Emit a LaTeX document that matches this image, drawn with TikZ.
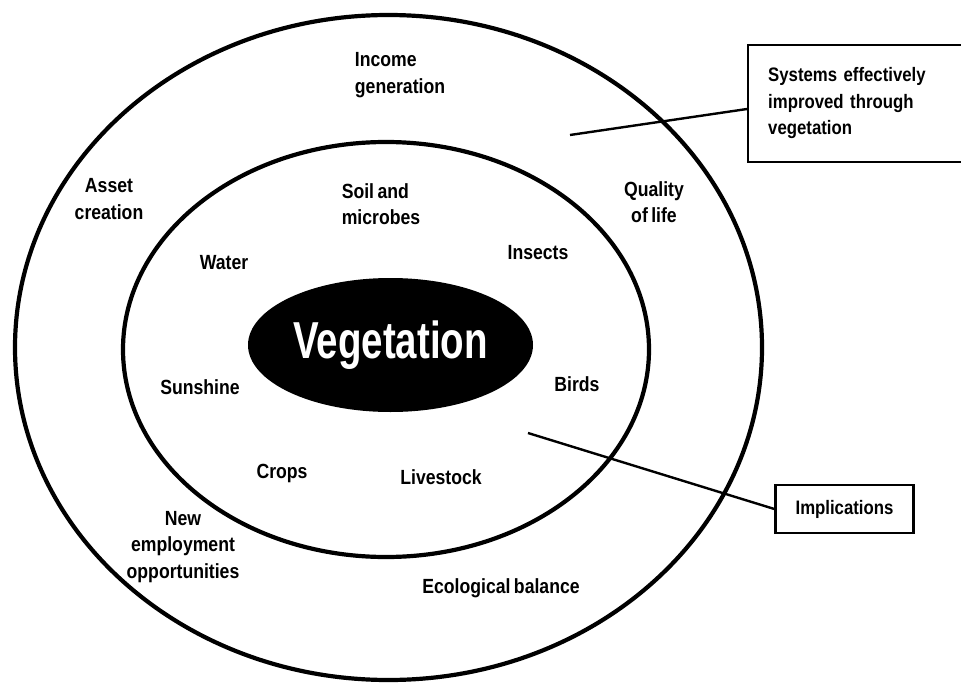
\documentclass[tikz,border=0pt]{standalone}
\usepackage{fontspec}
\newfontfamily\labelfont{Liberation Sans}[FakeStretch=0.86, WordSpace=0.7]
\newfontfamily\titlefont{Liberation Sans}[FakeStretch=0.74]
\usetikzlibrary{shapes.geometric}

\begin{document}
\begin{tikzpicture}[
x=1pt, y=-1pt,
font=\labelfont\bfseries\fontsize{20.5}{26.5}\selectfont,
ring/.style={draw, line width=4.2pt},
item/.style={align=center, inner sep=1pt},
core/.style={ellipse, fill=black, minimum width=285pt, minimum height=134pt, inner sep=0pt, text=white, font=\titlefont\bfseries\fontsize{52}{56}\selectfont},
callout/.style={rectangle, draw, line width=2.4pt, inner xsep=20pt, align=left, font=\labelfont\bfseries\fontsize{19.5}{26.5}\selectfont},
link/.style={line width=2.4pt}
]
\useasboundingbox (0,0) rectangle (961,685);

% --- Anneaux ---
\draw[ring] (388.5,347.5) ellipse [x radius=373.5, y radius=332.5];
\draw[ring] (386,349.5) ellipse [x radius=263, y radius=207.5];

% --- Centre ---
\node[core] (veg) at (390.5,345) {Vegetation};

% --- Anneau interieur ---
\node[item, align=left] (soil) at (381,204) {Soil and\\microbes};
\node[item] (water) at (224,263) {Water};
\node[item] (insects) at (538,253) {Insects};
\node[item] (sunshine) at (200,387) {Sunshine};
\node[item] (birds) at (577,384) {Birds};
\node[item] (crops) at (282,473) {Crops};
\node[item] (livestock) at (441,477) {Livestock};

% --- Anneau exterieur ---
\node[item, align=left] (income) at (400,75) {Income\\generation};
\node[item] (asset) at (109,199) {Asset\\creation};
\node[item] (quality) at (654,202) {Quality\\of life};
\node[item] (newjobs) at (183,547) {New\\employment\\opportunities};
\node[item] (ecobal) at (501,588) {Ecological balance};

% --- Legendes ---
\node[callout, anchor=west, text width=200pt, minimum height=117pt] (systems) at (747,103.5) {Systems effectively\\improved through\\vegetation};
\node[callout, minimum width=135pt, minimum height=48pt] (implic) at (844.5,509) {Implications};

\coordinate (sysend) at (570,135);
\coordinate (impend) at (528,433);
\draw[link] (sysend) -- ([yshift=-5.5pt]systems.west);
\draw[link] (impend) -- (implic.west);

\end{tikzpicture}
\end{document}
